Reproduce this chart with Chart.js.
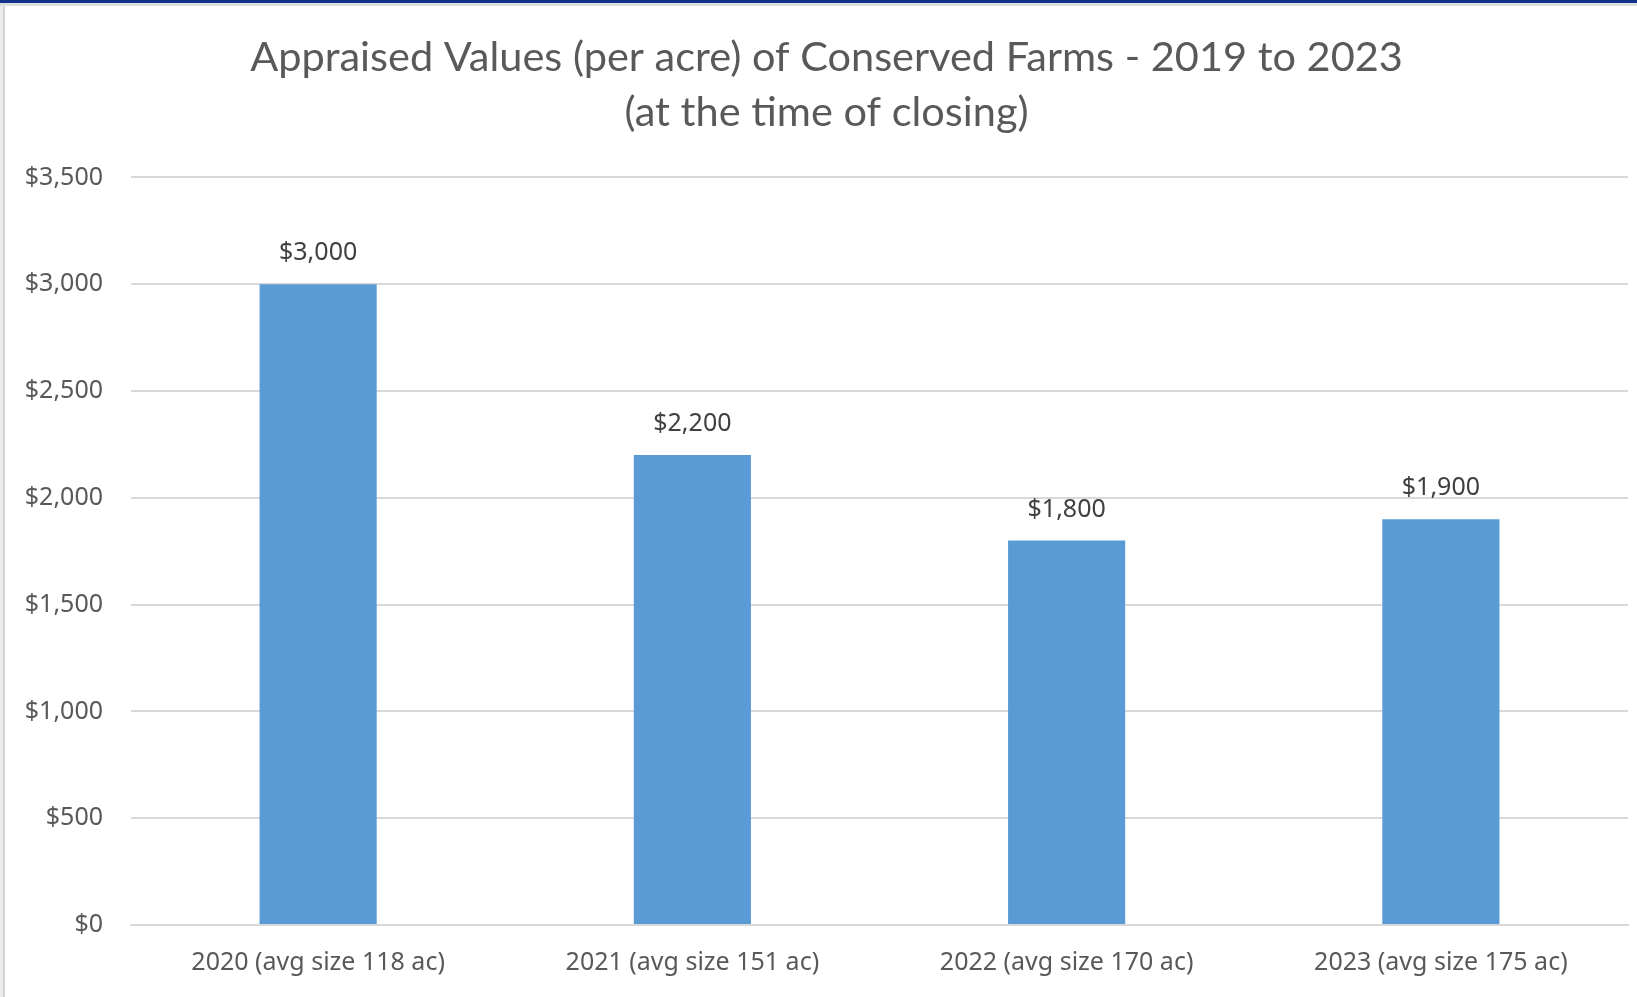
<!DOCTYPE html>
<html>
<head>
<meta charset="utf-8">
<script src="https://cdn.jsdelivr.net/npm/chart.js@4"></script>
<style>
  html, body { margin: 0; padding: 0; background: #fff; }
  body { width: 1637px; height: 997px; position: relative; overflow: hidden; }
  #topbar { position: absolute; left: 0; top: 0; width: 1637px; height: 3px; background: #12338c; }
  #topline { position: absolute; left: 0; top: 3px; width: 1637px; height: 3px; background: #dedede; }
  #leftline { position: absolute; left: 0; top: 6px; width: 3px; height: 991px; background: #ececec; border-right: 2px solid #d4d4d4; }
  #wrap { position: absolute; left: 5px; top: 6px; width: 1632px; height: 991px; }
</style>
</head>
<body>
<div id="topbar"></div>
<div id="topline"></div>
<div id="leftline"></div>
<div id="wrap"><canvas id="chart"></canvas></div>
<script>
// chart data
const categories = ["2020 (avg size 118 ac)", "2021 (avg size 151 ac)", "2022 (avg size 170 ac)", "2023 (avg size 175 ac)"];
const values = [3000, 2200, 1800, 1900];
const yTicks = [0, 500, 1000, 1500, 2000, 2500, 3000, 3500];
const titleLines = ["Appraised Values (per acre) of Conserved Farms - 2019 to 2023", "(at the time of closing)"];

function money(v) {
    return "$" + v.toLocaleString("en-US");
}

// draws the value above each bar
const valueLabels = {
    id: "valueLabels",
    afterDatasetsDraw(chart) {
        const ctx = chart.ctx;
        const meta = chart.getDatasetMeta(0);
        ctx.save();
        ctx.font = "25px 'Noto Sans'";
        ctx.fillStyle = "#404040";
        ctx.textAlign = "center";
        ctx.textBaseline = "middle";
        meta.data.forEach(function(bar, i) {
            ctx.fillText(money(values[i]), bar.x, bar.y - 31);
        });
        ctx.restore();
    }
};

new Chart(document.getElementById("chart"), {
    type: "bar",
    data: {
        labels: categories,
        datasets: [{
            data: values,
            backgroundColor: "#5b9bd5",
            borderWidth: 0,
            categoryPercentage: 1,
            barPercentage: 0.313
        }]
    },
    options: {
        responsive: true,
        maintainAspectRatio: false,
        animation: false,
        layout: { padding: { left: 20, right: 9, top: 0, bottom: 4 } },
        plugins: {
            legend: { display: false },
            tooltip: { enabled: false },
            title: {
                display: true,
                text: titleLines,
                color: "#595959",
                font: { family: "Lato", size: 41.5, weight: "normal", lineHeight: 1.33 },
                padding: { top: 24, bottom: 37 }
            }
        },
        scales: {
            x: {
                grid: { display: false },
                border: { color: "#d9d9d9", width: 2 },
                ticks: {
                    color: "#595959",
                    font: { family: "Noto Sans", size: 25 },
                    padding: 15,
                    maxRotation: 0
                }
            },
            y: {
                min: 0,
                max: 3500,
                afterBuildTicks(axis) {
                    axis.ticks = yTicks.map(v => ({ value: v }));
                },
                afterFit(axis) {
                    axis.width = 106;
                },
                grid: { color: "#d9d9d9", lineWidth: 2, drawTicks: false },
                border: { display: false },
                ticks: {
                    color: "#595959",
                    font: { family: "Noto Sans", size: 25 },
                    padding: 28,
                    callback: v => money(v)
                }
            }
        }
    },
    plugins: [valueLabels]
});
</script>
</body>
</html>
